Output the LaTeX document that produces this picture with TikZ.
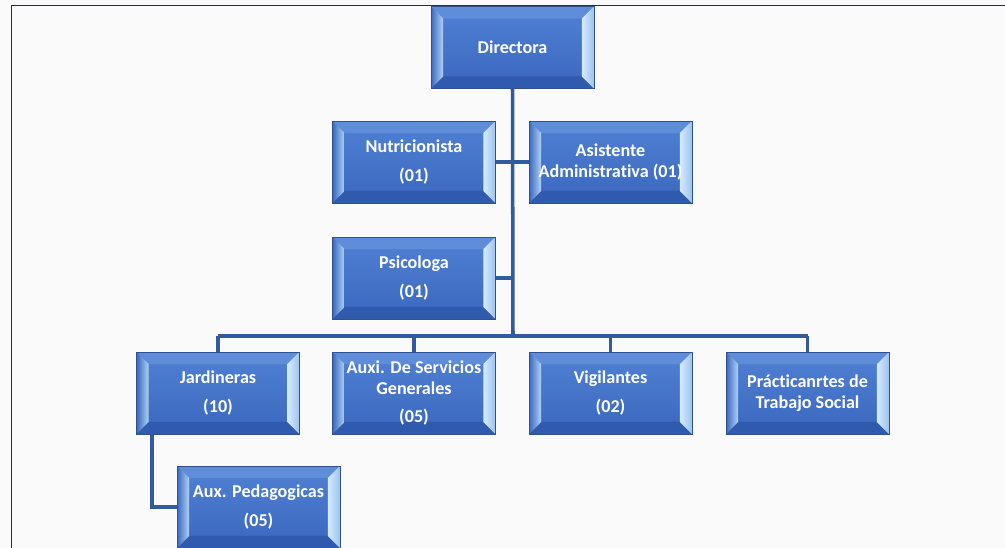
\documentclass[tikz,border=0pt]{standalone}
\usepackage{fontspec}
\setmainfont{Carlito}[Ligatures={NoCommon,NoContextual}]
\usepackage{tikz}

\definecolor{facetop}{HTML}{5081D3}
\definecolor{facebot}{HTML}{3A67BE}
\definecolor{bevtop}{HTML}{5F8DDA}
\definecolor{bevbot}{HTML}{2F5AAE}
\definecolor{bevleft}{HTML}{AFD2F6}
\definecolor{bevright}{HTML}{D2EBFF}
\definecolor{boxline}{HTML}{2F528F}
\definecolor{linkcol}{HTML}{325A9F}
\definecolor{framecol}{HTML}{282F38}
\definecolor{paper}{HTML}{FAFAFA}

\def\bv{0.24cm}

\begin{document}
\begin{tikzpicture}[x=0.02cm,y=-0.02cm,
      unit/.style={rectangle,draw=boxline,line width=0.5pt,
        minimum width=3.26cm,minimum height=1.64cm,
        text=white,align=center,
        font=\fontsize{10.3}{12}\selectfont\bfseries,
        top color=facetop,bottom color=facebot,
        path picture={
          \fill[bevtop] (path picture bounding box.north west) -- (path picture bounding box.north east)
            -- ([xshift=-\bv,yshift=-\bv]path picture bounding box.north east)
            -- ([xshift=\bv,yshift=-\bv]path picture bounding box.north west) -- cycle;
          \fill[bevbot] (path picture bounding box.south west) -- (path picture bounding box.south east)
            -- ([xshift=-\bv,yshift=\bv]path picture bounding box.south east)
            -- ([xshift=\bv,yshift=\bv]path picture bounding box.south west) -- cycle;
          \shade[left color=facebot,right color=bevleft] (path picture bounding box.north west)
            -- ([xshift=\bv,yshift=-\bv]path picture bounding box.north west)
            -- ([xshift=\bv,yshift=\bv]path picture bounding box.south west)
            -- (path picture bounding box.south west) -- cycle;
          \shade[left color=bevright,right color=bevright!60!facetop] (path picture bounding box.north east)
            -- ([xshift=-\bv,yshift=-\bv]path picture bounding box.north east)
            -- ([xshift=-\bv,yshift=\bv]path picture bounding box.south east)
            -- (path picture bounding box.south east) -- cycle;
        }},
      link/.style={draw=linkcol,line width=2pt}]

  % page and frame
  \fill[paper] (0,0) rectangle (1005,548);
  \useasboundingbox (0,0) rectangle (1005,548);
  \draw[framecol,line width=1.1pt] (11.5,548) -- (11.5,5.5) -- (1005,5.5);

  % boxes
  \node[unit] (dir) at (512.5,47.5) {Directora};
  \node[unit] (nut) at (414,162) {Nutricionista\\[5pt](01)};
  \node[unit] (asi) at (610.5,162) {Asistente\\Administrativa (01)};
  \node[unit] (psi) at (414,278) {Psicologa\\[5pt](01)};
  \node[unit] (jar) at (218,393) {Jardineras\\[5pt](10)};
  \node[unit] (srv) at (414,393) {Auxi. De Servicios\\Generales\\[4pt](05)};
  \node[unit] (vig) at (610.5,393) {Vigilantes\\[5pt](02)};
  \node[unit] (pra) at (807.5,393) {Prácticanrtes de\\Trabajo Social};
  \node[unit] (ped) at (258.5,507) {Aux. Pedagogicas\\[5pt](05)};

  \coordinate (bus) at (513,336);

  % connectors
  \draw[link] (dir.south) -- (bus);
  \draw[link] (nut.east) -- (asi.west);
  \draw[link] (psi.east) -- (psi.east -| bus);
  \draw[link] (jar.north |- bus) -- (pra.north |- bus);
  \draw[link] (jar.north) -- (jar.north |- bus);
  \draw[link] (srv.north) -- (srv.north |- bus);
  \draw[link] (vig.north) -- (vig.north |- bus);
  \draw[link] (pra.north) -- (pra.north |- bus);
  \draw[link] ([xshift=0.32cm]jar.south west) |- (ped.west);
\end{tikzpicture}
\end{document}
